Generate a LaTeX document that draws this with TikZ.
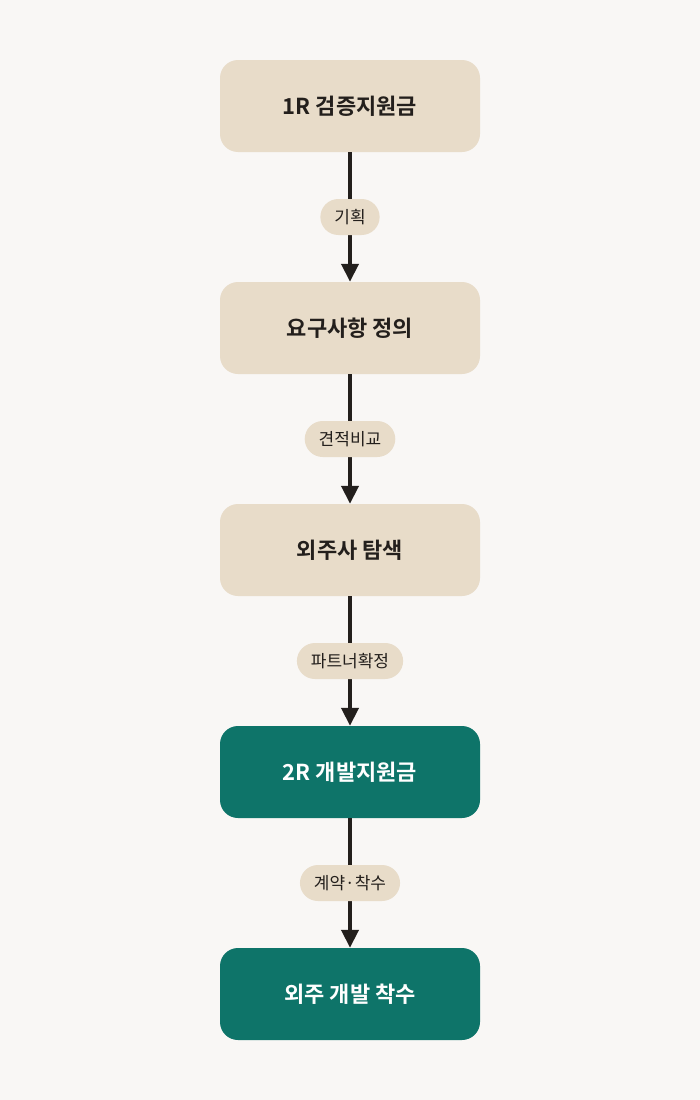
\documentclass[tikz,border=0pt]{standalone}
\usepackage{fontspec}
\newfontfamily\kr{Noto Sans CJK KR}
\newfontfamily\krb{Noto Sans CJK KR Bold}
\usetikzlibrary{arrows.meta}
\definecolor{bg}{HTML}{F9F7F5}
\definecolor{beige}{HTML}{E8DCC9}
\definecolor{teal}{HTML}{0E7469}
\definecolor{ink}{HTML}{231F1C}
\begin{document}
\begin{tikzpicture}[x=1pt,y=-1pt,
 box/.style={rounded corners=18pt,minimum width=260pt,minimum height=92pt,inner sep=0pt,font=\krb\fontsize{22}{26}\selectfont},
 light/.style={box,fill=beige,text=ink},
 dark/.style={box,fill=teal,text=white},
 pill/.style={fill=beige,rounded corners=18pt,minimum height=36pt,inner xsep=14pt,text=ink,font=\kr\fontsize{17}{20}\selectfont},
 conn/.style={draw=ink,line width=4pt,-{Triangle[length=18pt,width=17pt]}}]
\fill[bg] (0,0) rectangle (700,1100);
\useasboundingbox (0,0) rectangle (700,1100);
\node[light] (a) at (350,106) {1R 검증지원금};
\node[light] (b) at (350,328) {요구사항 정의};
\node[light] (c) at (350,550) {외주사 탐색};
\node[dark] (d) at (350,772) {2R 개발지원금};
\node[dark] (e) at (350,994) {외주 개발 착수};
\draw[conn] (a) -- node[pill]{기획} (b);
\draw[conn] (b) -- node[pill]{견적비교} (c);
\draw[conn] (c) -- node[pill]{파트너확정} (d);
\draw[conn] (d) -- node[pill]{계약·착수} (e);
\end{tikzpicture}
\end{document}
